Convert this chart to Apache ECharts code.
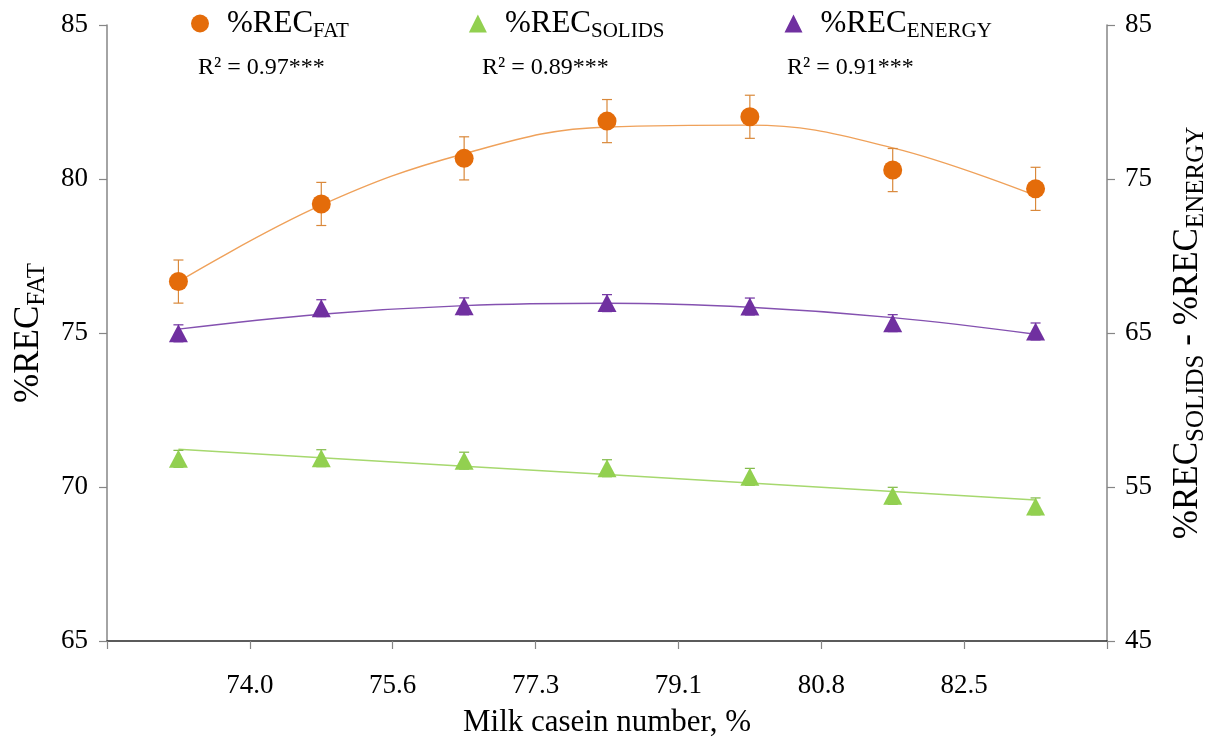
<!DOCTYPE html>
<html>
<head>
<meta charset="utf-8">
<style>
  html, body { margin: 0; padding: 0; background: #fff; }
  #chart { width: 1211px; height: 753px; }
</style>
<script src="https://cdn.jsdelivr.net/npm/echarts@6/dist/echarts.min.js"></script>
</head>
<body>
<div id="chart"></div>
<script>
// tick labels of the casein axis (outer ticks are unlabeled)
const xTickLabels = ['', '74.0', '75.6', '77.3', '79.1', '80.8', '82.5', ''];
// position of each group between the ticks
const caseinPos = [0.5, 1.5, 2.5, 3.5, 4.5, 5.5, 6.5];

// %REC FAT (left axis)
const fatMean = [76.67, 79.19, 80.67, 81.88, 82.02, 80.29, 79.68];
const fatErr = [0.7, 0.7, 0.7, 0.7, 0.7, 0.7, 0.7];
const fatFit = [76.67, 79.15, 80.82, 81.69, 81.75, 81.01, 79.46];

// %REC SOLIDS and ENERGY (right axis)
const solidsMean = [56.83, 56.87, 56.71, 56.22, 55.66, 54.43, 53.74];
const solidsErr = [0.55, 0.55, 0.55, 0.55, 0.55, 0.55, 0.55];
const solidsFit = [57.45, 56.90, 56.35, 55.81, 55.26, 54.71, 54.16];

const energyMean = [64.98, 66.61, 66.73, 66.94, 66.72, 65.64, 65.10];
const energyErr = [0.55, 0.55, 0.55, 0.55, 0.55, 0.55, 0.55];
const energyFit = [65.25, 66.22, 66.78, 66.93, 66.67, 66.00, 64.92];

const r2Labels = ['R\u00b2 = 0.97***', 'R\u00b2 = 0.89***', 'R\u00b2 = 0.91***'];

const serif = "'Liberation Serif', 'Times New Roman', serif";
const ORANGE = '#E46C0A';
const GREEN = '#92D050';
const PURPLE = '#7030A0';

const pairs = (ys) => caseinPos.map((x, i) => [x, ys[i]]);
const errData = (ys, es) => caseinPos.map((x, i) => [x, ys[i] - es[i], ys[i] + es[i]]);

function errRender(color) {
  return function (params, api) {
    const x = api.value(0);
    const top = api.coord([x, api.value(2)]);
    const bot = api.coord([x, api.value(1)]);
    const w = 5;
    const style = { stroke: color, lineWidth: 1.2 };
    return {
      type: 'group',
      children: [
        { type: 'line', shape: { x1: top[0], y1: top[1], x2: bot[0], y2: bot[1] }, style },
        { type: 'line', shape: { x1: top[0] - w, y1: top[1], x2: top[0] + w, y2: top[1] }, style },
        { type: 'line', shape: { x1: bot[0] - w, y1: bot[1], x2: bot[0] + w, y2: bot[1] }, style }
      ]
    };
  };
}

const chart = echarts.init(document.getElementById('chart'));

// axis names with subscripts
const nameRich = {
  a: { fontFamily: serif, fontSize: 35, color: '#000', lineHeight: 42 },
  b: { fontFamily: serif, fontSize: 25, color: '#000', lineHeight: 22, verticalAlign: 'bottom' }
};

chart.setOption({
  animation: false,
  backgroundColor: '#fff',
  grid: { left: 107, right: 104, top: 25, bottom: 112, outerBoundsMode: 'none', containLabel: false },
  legend: {
    left: 186,
    top: 3,
    itemWidth: 18,
    itemHeight: 18,
    itemGap: 120,
    data: [
      { name: 'FAT', icon: 'circle' },
      { name: 'SOLIDS', icon: 'triangle' },
      { name: 'ENERGY', icon: 'triangle' }
    ],
    formatter: (name) => '{a|%REC}{b|' + name + '}',
    textStyle: {
      rich: {
        a: { fontFamily: serif, fontSize: 31, color: '#000', lineHeight: 36, padding: [0, 0, 0, 13] },
        b: { fontFamily: serif, fontSize: 21, color: '#000', lineHeight: 16, verticalAlign: 'bottom' }
      }
    }
  },
  graphic: [
    { type: 'text', left: 198, top: 56, style: { text: r2Labels[0], font: '24px ' + serif, fill: '#000' } },
    { type: 'text', left: 482, top: 56, style: { text: r2Labels[1], font: '24px ' + serif, fill: '#000' } },
    { type: 'text', left: 787, top: 56, style: { text: r2Labels[2], font: '24px ' + serif, fill: '#000' } }
  ],
  xAxis: {
    type: 'value',
    min: 0,
    max: 7,
    interval: 1,
    name: 'Milk casein number, %',
    nameLocation: 'middle',
    nameGap: 66,
    nameTextStyle: { fontFamily: serif, fontSize: 31, color: '#000' },
    axisLine: { lineStyle: { color: '#262626', width: 1.5 } },
    axisTick: { inside: false, length: 8, lineStyle: { color: '#868686', width: 1.2 } },
    axisLabel: {
      margin: 31,
      fontFamily: serif,
      fontSize: 27,
      color: '#000',
      formatter: (v) => xTickLabels[Math.round(v)]
    },
    splitLine: { show: false }
  },
  yAxis: [
    {
      type: 'value',
      min: 65,
      max: 85,
      interval: 5,
      position: 'left',
      name: '{a|%REC}{b|FAT}',
      nameLocation: 'middle',
      nameRotate: 90,
      nameGap: 55,
      nameTextStyle: { rich: nameRich },
      axisLine: { show: true, lineStyle: { color: '#868686', width: 1.5 } },
      axisTick: { show: true, length: 8, lineStyle: { color: '#868686', width: 1.2 } },
      axisLabel: { margin: 19, fontFamily: serif, fontSize: 27, color: '#000' },
      splitLine: { show: false }
    },
    {
      type: 'value',
      min: 45,
      max: 85,
      interval: 10,
      position: 'right',
      name: '{a|%REC}{b|SOLIDS}{a| - %REC}{b|ENERGY}',
      nameLocation: 'middle',
      nameRotate: 90,
      nameGap: 60,
      nameTextStyle: { rich: nameRich },
      axisLine: { show: true, lineStyle: { color: '#868686', width: 1.5 } },
      axisTick: { show: true, length: 8, lineStyle: { color: '#868686', width: 1.2 } },
      axisLabel: { margin: 18, fontFamily: serif, fontSize: 27, color: '#000' },
      splitLine: { show: false }
    }
  ],
  series: [
    // fitted curves
    {
      type: 'line', name: 'FAT fit', yAxisIndex: 0, data: pairs(fatFit),
      smooth: 0.4, showSymbol: false, silent: true,
      lineStyle: { color: '#EFA15A', width: 1.4 }, z: 1
    },
    {
      type: 'line', name: 'SOLIDS fit', yAxisIndex: 1, data: pairs(solidsFit),
      smooth: false, showSymbol: false, silent: true,
      lineStyle: { color: '#A6D86E', width: 1.4 }, z: 1
    },
    {
      type: 'line', name: 'ENERGY fit', yAxisIndex: 1, data: pairs(energyFit),
      smooth: 0.4, showSymbol: false, silent: true,
      lineStyle: { color: '#8451B0', width: 1.4 }, z: 1
    },
    // error bars
    {
      type: 'custom', yAxisIndex: 0, data: errData(fatMean, fatErr),
      renderItem: errRender('#D9883A'), silent: true, z: 2
    },
    {
      type: 'custom', yAxisIndex: 1, data: errData(solidsMean, solidsErr),
      renderItem: errRender('#7FB846'), silent: true, z: 2
    },
    {
      type: 'custom', yAxisIndex: 1, data: errData(energyMean, energyErr),
      renderItem: errRender(PURPLE), silent: true, z: 2
    },
    // means
    {
      type: 'scatter', name: 'FAT', yAxisIndex: 0, data: pairs(fatMean),
      symbol: 'circle', symbolSize: 19, itemStyle: { color: ORANGE, opacity: 1 }, z: 3
    },
    {
      type: 'scatter', name: 'SOLIDS', yAxisIndex: 1, data: pairs(solidsMean),
      symbol: 'triangle', symbolSize: [19, 18], itemStyle: { color: GREEN, opacity: 1 }, z: 3
    },
    {
      type: 'scatter', name: 'ENERGY', yAxisIndex: 1, data: pairs(energyMean),
      symbol: 'triangle', symbolSize: [19, 18], itemStyle: { color: PURPLE, opacity: 1 }, z: 3
    }
  ]
});
</script>
</body>
</html>
